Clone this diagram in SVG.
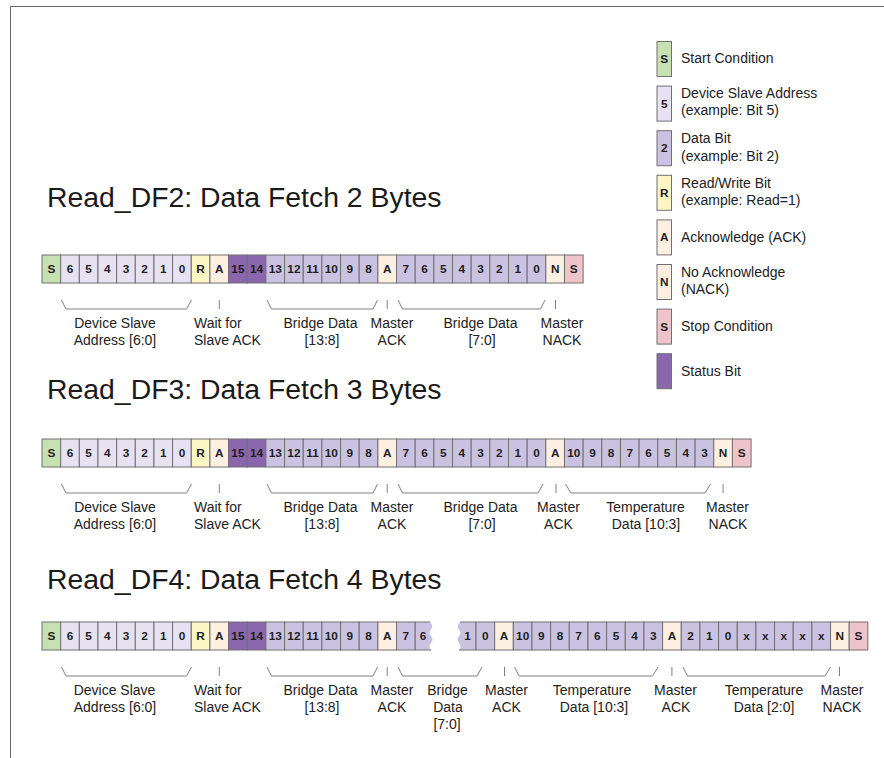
<svg xmlns="http://www.w3.org/2000/svg" width="884" height="758" viewBox="0 0 884 758">
<style>
.c{stroke:#707070;stroke-width:1}
.st{fill:#c8e1b2}.ad{fill:#e6e2f1}.da{fill:#c9c3e1}.ss{fill:#8a66ad}.rw{fill:#fbf6c3}.ak{fill:#fdf0e2}.sp{fill:#efc3ca}
.b{font-family:"Liberation Sans",Arial,sans-serif;font-weight:bold;font-size:11.8px;fill:#1e1e1e;text-anchor:middle}
.t{font-family:"Liberation Sans",Arial,sans-serif;font-size:28.4px;fill:#1a1a1a}
.l{font-family:"Liberation Sans",Arial,sans-serif;font-size:14px;fill:#222;text-anchor:middle}
.ls{text-anchor:start}
.br{fill:none;stroke:#808080;stroke-width:1}
.fr{fill:none;stroke:#666;stroke-width:1}
</style>
<rect width="884" height="758" fill="#fff"/>
<path class="fr" d="M10.5,758 V6.5 H884"/>

<g id="titles">
<text class="t" x="47" y="207">Read_DF2: Data Fetch 2 Bytes</text>
<text class="t" x="47" y="399">Read_DF3: Data Fetch 3 Bytes</text>
<text class="t" x="47" y="589">Read_DF4: Data Fetch 4 Bytes</text>
</g>

<g id="legend">
<g id="lg-start"><rect class="c st" x="657" y="41.5" width="14.5" height="35"/><text class="b" x="664.25" y="63">S</text><text class="l ls" x="681" y="63">Start Condition</text></g>
<g id="lg-addr"><rect class="c ad" x="657" y="86.1" width="14.5" height="35"/><text class="b" x="664.25" y="107.6">5</text><text class="l ls" x="681" y="98">Device Slave Address</text><text class="l ls" x="681" y="115">(example: Bit 5)</text></g>
<g id="lg-data"><rect class="c da" x="657" y="130.7" width="14.5" height="35"/><text class="b" x="664.25" y="152.2">2</text><text class="l ls" x="681" y="143">Data Bit</text><text class="l ls" x="681" y="160.5">(example: Bit 2)</text></g>
<g id="lg-rw"><rect class="c rw" x="657" y="175.3" width="14.5" height="35"/><text class="b" x="664.25" y="196.8">R</text><text class="l ls" x="681" y="187.5">Read/Write Bit</text><text class="l ls" x="681" y="205">(example: Read=1)</text></g>
<g id="lg-ack"><rect class="c ak" x="657" y="219.9" width="14.5" height="35"/><text class="b" x="664.25" y="241.4">A</text><text class="l ls" x="681" y="242">Acknowledge (ACK)</text></g>
<g id="lg-nack"><rect class="c ak" x="657" y="264.5" width="14.5" height="35"/><text class="b" x="664.25" y="286">N</text><text class="l ls" x="681" y="277">No Acknowledge</text><text class="l ls" x="681" y="294">(NACK)</text></g>
<g id="lg-stop"><rect class="c sp" x="657" y="309.1" width="14.5" height="35"/><text class="b" x="664.25" y="330.6">S</text><text class="l ls" x="681" y="331">Stop Condition</text></g>
<g id="lg-status"><rect class="c ss" x="657" y="353.7" width="14.5" height="35"/><text class="l ls" x="681" y="376">Status Bit</text></g>
</g>

<g id="row1">
<g id="r1c0"><rect class="c st" x="42" y="255" width="18.66" height="28"/><text class="b" x="51.33" y="273">S</text></g>
<g id="r1c1"><rect class="c ad" x="60.66" y="255" width="18.66" height="28"/><text class="b" x="69.99" y="273">6</text></g>
<g id="r1c2"><rect class="c ad" x="79.32" y="255" width="18.66" height="28"/><text class="b" x="88.65" y="273">5</text></g>
<g id="r1c3"><rect class="c ad" x="97.98" y="255" width="18.66" height="28"/><text class="b" x="107.31" y="273">4</text></g>
<g id="r1c4"><rect class="c ad" x="116.64" y="255" width="18.66" height="28"/><text class="b" x="125.97" y="273">3</text></g>
<g id="r1c5"><rect class="c ad" x="135.3" y="255" width="18.66" height="28"/><text class="b" x="144.63" y="273">2</text></g>
<g id="r1c6"><rect class="c ad" x="153.96" y="255" width="18.66" height="28"/><text class="b" x="163.29" y="273">1</text></g>
<g id="r1c7"><rect class="c ad" x="172.62" y="255" width="18.66" height="28"/><text class="b" x="181.95" y="273">0</text></g>
<g id="r1c8"><rect class="c rw" x="191.28" y="255" width="18.66" height="28"/><text class="b" x="200.61" y="273">R</text></g>
<g id="r1c9"><rect class="c ak" x="209.94" y="255" width="18.66" height="28"/><text class="b" x="219.27" y="273">A</text></g>
<g id="r1c10"><rect class="c ss" x="228.6" y="255" width="18.66" height="28"/><text class="b" x="237.93" y="273">15</text></g>
<g id="r1c11"><rect class="c ss" x="247.26" y="255" width="18.66" height="28"/><text class="b" x="256.59" y="273">14</text></g>
<g id="r1c12"><rect class="c da" x="265.92" y="255" width="18.66" height="28"/><text class="b" x="275.25" y="273">13</text></g>
<g id="r1c13"><rect class="c da" x="284.58" y="255" width="18.66" height="28"/><text class="b" x="293.91" y="273">12</text></g>
<g id="r1c14"><rect class="c da" x="303.24" y="255" width="18.66" height="28"/><text class="b" x="312.57" y="273">11</text></g>
<g id="r1c15"><rect class="c da" x="321.9" y="255" width="18.66" height="28"/><text class="b" x="331.23" y="273">10</text></g>
<g id="r1c16"><rect class="c da" x="340.56" y="255" width="18.66" height="28"/><text class="b" x="349.89" y="273">9</text></g>
<g id="r1c17"><rect class="c da" x="359.22" y="255" width="18.66" height="28"/><text class="b" x="368.55" y="273">8</text></g>
<g id="r1c18"><rect class="c ak" x="377.88" y="255" width="18.66" height="28"/><text class="b" x="387.21" y="273">A</text></g>
<g id="r1c19"><rect class="c da" x="396.54" y="255" width="18.66" height="28"/><text class="b" x="405.87" y="273">7</text></g>
<g id="r1c20"><rect class="c da" x="415.2" y="255" width="18.66" height="28"/><text class="b" x="424.53" y="273">6</text></g>
<g id="r1c21"><rect class="c da" x="433.86" y="255" width="18.66" height="28"/><text class="b" x="443.19" y="273">5</text></g>
<g id="r1c22"><rect class="c da" x="452.52" y="255" width="18.66" height="28"/><text class="b" x="461.85" y="273">4</text></g>
<g id="r1c23"><rect class="c da" x="471.18" y="255" width="18.66" height="28"/><text class="b" x="480.51" y="273">3</text></g>
<g id="r1c24"><rect class="c da" x="489.84" y="255" width="18.66" height="28"/><text class="b" x="499.17" y="273">2</text></g>
<g id="r1c25"><rect class="c da" x="508.5" y="255" width="18.66" height="28"/><text class="b" x="517.83" y="273">1</text></g>
<g id="r1c26"><rect class="c da" x="527.16" y="255" width="18.66" height="28"/><text class="b" x="536.49" y="273">0</text></g>
<g id="r1c27"><rect class="c ak" x="545.82" y="255" width="18.66" height="28"/><text class="b" x="555.15" y="273">N</text></g>
<g id="r1c28"><rect class="c sp" x="564.48" y="255" width="18.66" height="28"/><text class="b" x="573.81" y="273">S</text></g>
</g>

<g id="row2">
<g id="r2c0"><rect class="c st" x="42" y="439" width="18.66" height="28"/><text class="b" x="51.33" y="457">S</text></g>
<g id="r2c1"><rect class="c ad" x="60.66" y="439" width="18.66" height="28"/><text class="b" x="69.99" y="457">6</text></g>
<g id="r2c2"><rect class="c ad" x="79.32" y="439" width="18.66" height="28"/><text class="b" x="88.65" y="457">5</text></g>
<g id="r2c3"><rect class="c ad" x="97.98" y="439" width="18.66" height="28"/><text class="b" x="107.31" y="457">4</text></g>
<g id="r2c4"><rect class="c ad" x="116.64" y="439" width="18.66" height="28"/><text class="b" x="125.97" y="457">3</text></g>
<g id="r2c5"><rect class="c ad" x="135.3" y="439" width="18.66" height="28"/><text class="b" x="144.63" y="457">2</text></g>
<g id="r2c6"><rect class="c ad" x="153.96" y="439" width="18.66" height="28"/><text class="b" x="163.29" y="457">1</text></g>
<g id="r2c7"><rect class="c ad" x="172.62" y="439" width="18.66" height="28"/><text class="b" x="181.95" y="457">0</text></g>
<g id="r2c8"><rect class="c rw" x="191.28" y="439" width="18.66" height="28"/><text class="b" x="200.61" y="457">R</text></g>
<g id="r2c9"><rect class="c ak" x="209.94" y="439" width="18.66" height="28"/><text class="b" x="219.27" y="457">A</text></g>
<g id="r2c10"><rect class="c ss" x="228.6" y="439" width="18.66" height="28"/><text class="b" x="237.93" y="457">15</text></g>
<g id="r2c11"><rect class="c ss" x="247.26" y="439" width="18.66" height="28"/><text class="b" x="256.59" y="457">14</text></g>
<g id="r2c12"><rect class="c da" x="265.92" y="439" width="18.66" height="28"/><text class="b" x="275.25" y="457">13</text></g>
<g id="r2c13"><rect class="c da" x="284.58" y="439" width="18.66" height="28"/><text class="b" x="293.91" y="457">12</text></g>
<g id="r2c14"><rect class="c da" x="303.24" y="439" width="18.66" height="28"/><text class="b" x="312.57" y="457">11</text></g>
<g id="r2c15"><rect class="c da" x="321.9" y="439" width="18.66" height="28"/><text class="b" x="331.23" y="457">10</text></g>
<g id="r2c16"><rect class="c da" x="340.56" y="439" width="18.66" height="28"/><text class="b" x="349.89" y="457">9</text></g>
<g id="r2c17"><rect class="c da" x="359.22" y="439" width="18.66" height="28"/><text class="b" x="368.55" y="457">8</text></g>
<g id="r2c18"><rect class="c ak" x="377.88" y="439" width="18.66" height="28"/><text class="b" x="387.21" y="457">A</text></g>
<g id="r2c19"><rect class="c da" x="396.54" y="439" width="18.66" height="28"/><text class="b" x="405.87" y="457">7</text></g>
<g id="r2c20"><rect class="c da" x="415.2" y="439" width="18.66" height="28"/><text class="b" x="424.53" y="457">6</text></g>
<g id="r2c21"><rect class="c da" x="433.86" y="439" width="18.66" height="28"/><text class="b" x="443.19" y="457">5</text></g>
<g id="r2c22"><rect class="c da" x="452.52" y="439" width="18.66" height="28"/><text class="b" x="461.85" y="457">4</text></g>
<g id="r2c23"><rect class="c da" x="471.18" y="439" width="18.66" height="28"/><text class="b" x="480.51" y="457">3</text></g>
<g id="r2c24"><rect class="c da" x="489.84" y="439" width="18.66" height="28"/><text class="b" x="499.17" y="457">2</text></g>
<g id="r2c25"><rect class="c da" x="508.5" y="439" width="18.66" height="28"/><text class="b" x="517.83" y="457">1</text></g>
<g id="r2c26"><rect class="c da" x="527.16" y="439" width="18.66" height="28"/><text class="b" x="536.49" y="457">0</text></g>
<g id="r2c27"><rect class="c ak" x="545.82" y="439" width="18.66" height="28"/><text class="b" x="555.15" y="457">A</text></g>
<g id="r2c28"><rect class="c da" x="564.48" y="439" width="18.66" height="28"/><text class="b" x="573.81" y="457">10</text></g>
<g id="r2c29"><rect class="c da" x="583.14" y="439" width="18.66" height="28"/><text class="b" x="592.47" y="457">9</text></g>
<g id="r2c30"><rect class="c da" x="601.8" y="439" width="18.66" height="28"/><text class="b" x="611.13" y="457">8</text></g>
<g id="r2c31"><rect class="c da" x="620.46" y="439" width="18.66" height="28"/><text class="b" x="629.79" y="457">7</text></g>
<g id="r2c32"><rect class="c da" x="639.12" y="439" width="18.66" height="28"/><text class="b" x="648.45" y="457">6</text></g>
<g id="r2c33"><rect class="c da" x="657.78" y="439" width="18.66" height="28"/><text class="b" x="667.11" y="457">5</text></g>
<g id="r2c34"><rect class="c da" x="676.44" y="439" width="18.66" height="28"/><text class="b" x="685.77" y="457">4</text></g>
<g id="r2c35"><rect class="c da" x="695.1" y="439" width="18.66" height="28"/><text class="b" x="704.43" y="457">3</text></g>
<g id="r2c36"><rect class="c ak" x="713.76" y="439" width="18.66" height="28"/><text class="b" x="723.09" y="457">N</text></g>
<g id="r2c37"><rect class="c sp" x="732.42" y="439" width="18.66" height="28"/><text class="b" x="741.75" y="457">S</text></g>
</g>

<g id="row3">
<g id="r3c0"><rect class="c st" x="42" y="622" width="18.66" height="28"/><text class="b" x="51.33" y="640">S</text></g>
<g id="r3c1"><rect class="c ad" x="60.66" y="622" width="18.66" height="28"/><text class="b" x="69.99" y="640">6</text></g>
<g id="r3c2"><rect class="c ad" x="79.32" y="622" width="18.66" height="28"/><text class="b" x="88.65" y="640">5</text></g>
<g id="r3c3"><rect class="c ad" x="97.98" y="622" width="18.66" height="28"/><text class="b" x="107.31" y="640">4</text></g>
<g id="r3c4"><rect class="c ad" x="116.64" y="622" width="18.66" height="28"/><text class="b" x="125.97" y="640">3</text></g>
<g id="r3c5"><rect class="c ad" x="135.3" y="622" width="18.66" height="28"/><text class="b" x="144.63" y="640">2</text></g>
<g id="r3c6"><rect class="c ad" x="153.96" y="622" width="18.66" height="28"/><text class="b" x="163.29" y="640">1</text></g>
<g id="r3c7"><rect class="c ad" x="172.62" y="622" width="18.66" height="28"/><text class="b" x="181.95" y="640">0</text></g>
<g id="r3c8"><rect class="c rw" x="191.28" y="622" width="18.66" height="28"/><text class="b" x="200.61" y="640">R</text></g>
<g id="r3c9"><rect class="c ak" x="209.94" y="622" width="18.66" height="28"/><text class="b" x="219.27" y="640">A</text></g>
<g id="r3c10"><rect class="c ss" x="228.6" y="622" width="18.66" height="28"/><text class="b" x="237.93" y="640">15</text></g>
<g id="r3c11"><rect class="c ss" x="247.26" y="622" width="18.66" height="28"/><text class="b" x="256.59" y="640">14</text></g>
<g id="r3c12"><rect class="c da" x="265.92" y="622" width="18.66" height="28"/><text class="b" x="275.25" y="640">13</text></g>
<g id="r3c13"><rect class="c da" x="284.58" y="622" width="18.66" height="28"/><text class="b" x="293.91" y="640">12</text></g>
<g id="r3c14"><rect class="c da" x="303.24" y="622" width="18.66" height="28"/><text class="b" x="312.57" y="640">11</text></g>
<g id="r3c15"><rect class="c da" x="321.9" y="622" width="18.66" height="28"/><text class="b" x="331.23" y="640">10</text></g>
<g id="r3c16"><rect class="c da" x="340.56" y="622" width="18.66" height="28"/><text class="b" x="349.89" y="640">9</text></g>
<g id="r3c17"><rect class="c da" x="359.22" y="622" width="18.66" height="28"/><text class="b" x="368.55" y="640">8</text></g>
<g id="r3c18"><rect class="c ak" x="377.88" y="622" width="18.66" height="28"/><text class="b" x="387.21" y="640">A</text></g>
<g id="r3c19"><rect class="c da" x="396.54" y="622" width="18.66" height="28"/><text class="b" x="405.87" y="640">7</text></g>
<g id="r3c20"><path class="da" d="M415.2,622 H430 Q434,626 431,629.5 T431,636 T431,643 T431,650 H415.2 Z"/><path class="c" fill="none" d="M430,622 H415.2 V650 H431"/><text class="b" x="423" y="640">6</text></g>
<g id="r3c21"><path class="da" d="M476,622 H460 Q456,626 459,629.5 T459,636 T459,643 T459,650 H476 Z"/><path class="c" fill="none" d="M460,622 H476 V650 H459"/><text class="b" x="467.5" y="640">1</text></g>
<g id="r3c22"><rect class="c da" x="476" y="622" width="18.66" height="28"/><text class="b" x="485.33" y="640">0</text></g>
<g id="r3c23"><rect class="c ak" x="494.66" y="622" width="18.66" height="28"/><text class="b" x="503.99" y="640">A</text></g>
<g id="r3c24"><rect class="c da" x="513.32" y="622" width="18.66" height="28"/><text class="b" x="522.65" y="640">10</text></g>
<g id="r3c25"><rect class="c da" x="531.98" y="622" width="18.66" height="28"/><text class="b" x="541.31" y="640">9</text></g>
<g id="r3c26"><rect class="c da" x="550.64" y="622" width="18.66" height="28"/><text class="b" x="559.97" y="640">8</text></g>
<g id="r3c27"><rect class="c da" x="569.3" y="622" width="18.66" height="28"/><text class="b" x="578.63" y="640">7</text></g>
<g id="r3c28"><rect class="c da" x="587.96" y="622" width="18.66" height="28"/><text class="b" x="597.29" y="640">6</text></g>
<g id="r3c29"><rect class="c da" x="606.62" y="622" width="18.66" height="28"/><text class="b" x="615.95" y="640">5</text></g>
<g id="r3c30"><rect class="c da" x="625.28" y="622" width="18.66" height="28"/><text class="b" x="634.61" y="640">4</text></g>
<g id="r3c31"><rect class="c da" x="643.94" y="622" width="18.66" height="28"/><text class="b" x="653.27" y="640">3</text></g>
<g id="r3c32"><rect class="c ak" x="662.6" y="622" width="18.66" height="28"/><text class="b" x="671.93" y="640">A</text></g>
<g id="r3c33"><rect class="c da" x="681.26" y="622" width="18.66" height="28"/><text class="b" x="690.59" y="640">2</text></g>
<g id="r3c34"><rect class="c da" x="699.92" y="622" width="18.66" height="28"/><text class="b" x="709.25" y="640">1</text></g>
<g id="r3c35"><rect class="c da" x="718.58" y="622" width="18.66" height="28"/><text class="b" x="727.91" y="640">0</text></g>
<g id="r3c36"><rect class="c da" x="737.24" y="622" width="18.66" height="28"/><text class="b" x="746.57" y="640">x</text></g>
<g id="r3c37"><rect class="c da" x="755.9" y="622" width="18.66" height="28"/><text class="b" x="765.23" y="640">x</text></g>
<g id="r3c38"><rect class="c da" x="774.56" y="622" width="18.66" height="28"/><text class="b" x="783.89" y="640">x</text></g>
<g id="r3c39"><rect class="c da" x="793.22" y="622" width="18.66" height="28"/><text class="b" x="802.55" y="640">x</text></g>
<g id="r3c40"><rect class="c da" x="811.88" y="622" width="18.66" height="28"/><text class="b" x="821.21" y="640">x</text></g>
<g id="r3c41"><rect class="c ak" x="830.54" y="622" width="18.66" height="28"/><text class="b" x="839.87" y="640">N</text></g>
<g id="r3c42"><rect class="c sp" x="849.2" y="622" width="18.66" height="28"/><text class="b" x="858.53" y="640">S</text></g>
</g>

<g id="connectors">
<path class="br" d="M61.5,300 L66,309 H186.5 L191.5,300"/>
<path class="br" d="M219.3,300 V309"/>
<path class="br" d="M267,300 L271.5,309 H373 L377.5,300"/>
<path class="br" d="M387.2,300 V309"/>
<path class="br" d="M398,300 L402.5,309 H540.5 L545,300"/>
<path class="br" d="M555.5,300 V309"/>

<path class="br" d="M61.5,484 L66,493 H186.5 L191.5,484"/>
<path class="br" d="M219.3,484 V493"/>
<path class="br" d="M267,484 L271.5,493 H373 L377.5,484"/>
<path class="br" d="M387.2,484 V493"/>
<path class="br" d="M398,484 L402.5,493 H538 L543,484"/>
<path class="br" d="M556,484 V493"/>
<path class="br" d="M565.5,484 L571,493 H705 L710.5,484"/>
<path class="br" d="M723.1,484 V493"/>

<path class="br" d="M61.5,667 L66,676 H186.5 L191.5,667"/>
<path class="br" d="M219.3,667 V676"/>
<path class="br" d="M267,667 L271.5,676 H373 L377.5,667"/>
<path class="br" d="M387.2,667 V676"/>
<path class="br" d="M398,667 L402.5,676 H477 L482,667"/>
<path class="br" d="M504.5,667 V676"/>
<path class="br" d="M514.5,667 L519,676 H652.5 L658,667"/>
<path class="br" d="M671.9,667 V676"/>
<path class="br" d="M683,667 L687.5,676 H825 L830.5,667"/>
<path class="br" d="M839.5,667 V676"/>
</g>

<g id="labels">
<text class="l" x="115" y="328">Device Slave</text><text class="l" x="115" y="345">Address [6:0]</text>
<text class="l ls" x="194" y="328">Wait for</text><text class="l ls" x="194" y="345">Slave ACK</text>
<text class="l" x="320.5" y="328">Bridge Data</text><text class="l" x="322" y="345">[13:8]</text>
<text class="l" x="392" y="328">Master</text><text class="l" x="392" y="345">ACK</text>
<text class="l" x="480.5" y="328">Bridge Data</text><text class="l" x="482" y="345">[7:0]</text>
<text class="l" x="562" y="328">Master</text><text class="l" x="562" y="345">NACK</text>

<text class="l" x="115" y="512">Device Slave</text><text class="l" x="115" y="529">Address [6:0]</text>
<text class="l ls" x="194" y="512">Wait for</text><text class="l ls" x="194" y="529">Slave ACK</text>
<text class="l" x="320.5" y="512">Bridge Data</text><text class="l" x="322" y="529">[13:8]</text>
<text class="l" x="392" y="512">Master</text><text class="l" x="392" y="529">ACK</text>
<text class="l" x="480.5" y="512">Bridge Data</text><text class="l" x="482" y="529">[7:0]</text>
<text class="l" x="558.5" y="512">Master</text><text class="l" x="558.5" y="529">ACK</text>
<text class="l" x="645.5" y="512">Temperature</text><text class="l" x="646" y="529">Data [10:3]</text>
<text class="l" x="727.5" y="512">Master</text><text class="l" x="728" y="529">NACK</text>

<text class="l" x="114.5" y="695">Device Slave</text><text class="l" x="115" y="712">Address [6:0]</text>
<text class="l ls" x="194" y="695">Wait for</text><text class="l ls" x="194" y="712">Slave ACK</text>
<text class="l" x="320.5" y="695">Bridge Data</text><text class="l" x="322" y="712">[13:8]</text>
<text class="l" x="392" y="695">Master</text><text class="l" x="392" y="712">ACK</text>
<text class="l" x="447.5" y="695">Bridge</text><text class="l" x="448" y="712">Data</text><text class="l" x="447" y="728.5">[7:0]</text>
<text class="l" x="506.5" y="695">Master</text><text class="l" x="506.5" y="712">ACK</text>
<text class="l" x="592" y="695">Temperature</text><text class="l" x="594" y="712">Data [10:3]</text>
<text class="l" x="675.5" y="695">Master</text><text class="l" x="676" y="712">ACK</text>
<text class="l" x="764" y="695">Temperature</text><text class="l" x="764" y="712">Data [2:0]</text>
<text class="l" x="842" y="695">Master</text><text class="l" x="842" y="712">NACK</text>
</g>
</svg>
